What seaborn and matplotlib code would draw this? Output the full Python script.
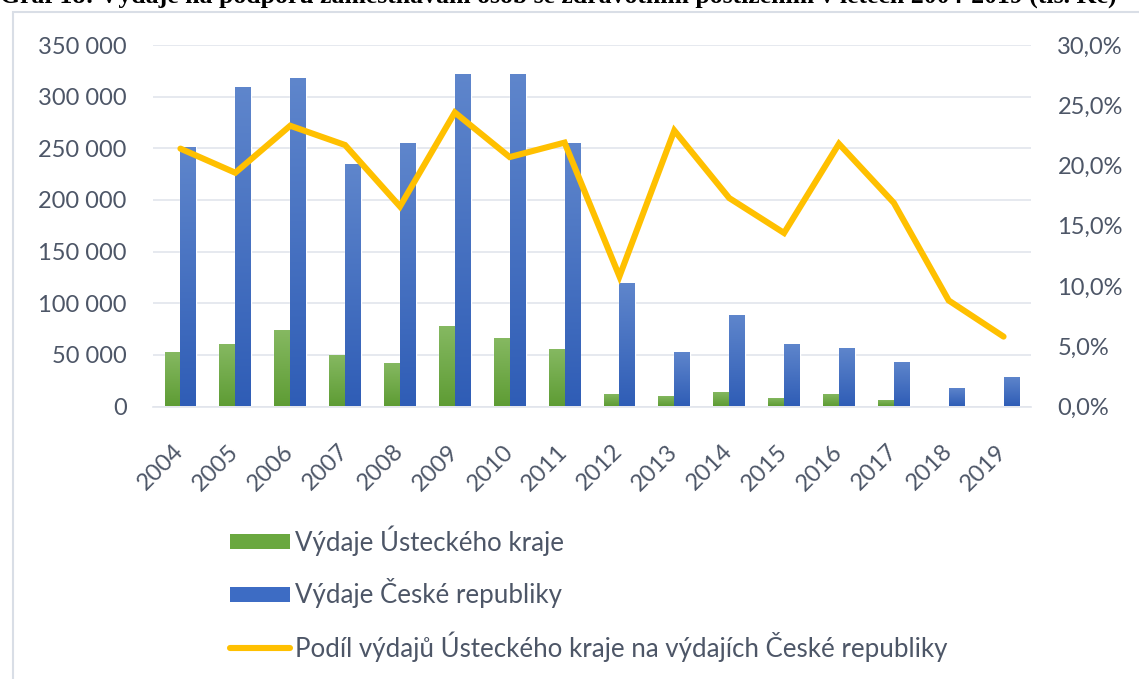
import numpy as np
import pandas as pd
import matplotlib
matplotlib.use("Agg")
import matplotlib.pyplot as plt
import seaborn as sns
from matplotlib.ticker import FuncFormatter
from matplotlib.patches import Rectangle, Patch
from matplotlib.lines import Line2D
from matplotlib.colors import LinearSegmentedColormap, to_hex

# data (tis. Kč)
years = [str(y) for y in range(2004, 2020)]
vydaje_kraj = [52500, 60200, 73700, 49500, 42400, 77900, 66000, 55600,
               12100, 10500, 13700, 7900, 12100, 6300, 0, 0]
vydaje_cr = [250800, 308900, 317600, 234400, 255000, 322400, 322400, 255000,
             119200, 52500, 88300, 60200, 56900, 43400, 18200, 28500]
podil = [21.4, 19.4, 23.3, 21.7, 16.6, 24.4, 20.7, 21.9,
         10.8, 22.9, 17.3, 14.4, 21.8, 16.9, 8.8, 5.8]

lbl_kraj = "Výdaje Ústeckého kraje"
lbl_cr = "Výdaje České republiky"
lbl_podil = "Podíl výdajů Ústeckého kraje na výdajích České republiky"

GREEN = "#6AA83F"
BLUE = "#3D6CC4"
YELLOW = "#FFC000"
TEXT = "#4D5667"
GRID = "#E2E5EC"
# gradient ends (bottom -> top), like the Excel fill
GRAD = {to_hex(GREEN): ["#5E9C34", "#86B962"],
        to_hex(BLUE): ["#2F5DB6", "#5F86CC"]}

sns.set_theme(style="white")
plt.rcParams['font.family'] = ['Lato', 'DejaVu Sans']

df = pd.DataFrame({
    'rok': years * 2,
    'vydaje': vydaje_kraj + vydaje_cr,
    'serie': [lbl_kraj] * len(years) + [lbl_cr] * len(years),
})

fig = plt.figure(figsize=(11.39, 6.79), dpi=100)
ax = fig.add_axes([153 / 1139, 1 - 406.5 / 679, (1031 - 153) / 1139, (406.5 - 45) / 679])

sns.barplot(data=df, x='rok', y='vydaje', hue='serie', palette=[GREEN, BLUE],
            width=0.58, gap=0, ax=ax, legend=False, saturation=1)

ax2 = ax.twinx()
sns.lineplot(x=np.arange(len(years)), y=np.array(podil) / 100, color=YELLOW,
             linewidth=4.4, ax=ax2, legend=False)
ax2.lines[0].set_solid_joinstyle('miter')
ax2.lines[0].set_solid_capstyle('round')

ax.set_xlim(-0.5, len(years) - 0.5)
ax.set_ylim(0, 350000)

# vertical gradient inside every bar
grad = np.linspace(0, 1, 256).reshape(-1, 1)
for bar in list(ax.patches):
    h = bar.get_height()
    if h <= 0:
        continue
    key = to_hex(bar.get_facecolor())
    if key not in GRAD:
        continue
    cmap = LinearSegmentedColormap.from_list('g', GRAD[key])
    x0 = bar.get_x()
    im = ax.imshow(grad, cmap=cmap, origin='lower', aspect='auto',
                   extent=[x0, x0 + bar.get_width(), 0, h], zorder=bar.get_zorder())
    im.set_clip_path(bar)
    bar.set_facecolor('none')
ax.set_xlim(-0.5, len(years) - 0.5)
ax.set_ylim(0, 350000)

ax.set_yticks(np.arange(0, 350001, 50000))
ax.yaxis.set_major_formatter(FuncFormatter(lambda v, p: f"{int(v):,}".replace(",", " ")))
ax2.set_ylim(0, 0.30)
ax2.set_yticks(np.arange(0, 0.301, 0.05))
ax2.yaxis.set_major_formatter(FuncFormatter(lambda v, p: f"{v * 100:.1f}%".replace(".", ",")))

ax.grid(axis='y', color=GRID, linewidth=1.2)
ax.set_axisbelow(True)
for a in (ax, ax2):
    for s in a.spines.values():
        s.set_visible(False)
    a.set_xlabel('')
    a.set_ylabel('')
ax.spines['bottom'].set_visible(True)
ax.spines['bottom'].set_color(GRID)
ax.spines['bottom'].set_linewidth(1.2)

ax.tick_params(axis='y', length=0, pad=19, labelsize=17, labelcolor=TEXT)
ax2.tick_params(axis='y', length=0, pad=19, labelsize=17, labelcolor=TEXT)
ax.tick_params(axis='x', length=0, pad=30, labelsize=17, labelcolor=TEXT)
for t in ax.get_xticklabels():
    t.set_rotation(45)
    t.set_ha('right')
    t.set_va('center')
    t.set_rotation_mode('anchor')

# legend below the chart
handles = [Patch(facecolor=GREEN, edgecolor='none'),
           Patch(facecolor=BLUE, edgecolor='none'),
           Line2D([0], [0], color=YELLOW, linewidth=4.4, solid_capstyle='round')]
leg = fig.legend(handles, [lbl_kraj, lbl_cr, lbl_podil], loc='upper left',
                 bbox_to_anchor=(207 / 1139, 1 - 502 / 679), frameon=False,
                 fontsize=18.6, labelcolor=TEXT, handlelength=2.3, handleheight=0.55,
                 handletextpad=0.2, labelspacing=0.88)

# chart frame and the cut-off caption above it
fig.patches.append(Rectangle((13 / 1139, -0.05), 1.2, 1 - 12 / 679 + 0.05,
                             transform=fig.transFigure, fill=False,
                             edgecolor='#D9DEE6', linewidth=1.5))
fig.text(0.0, 1 - 3 / 679, "Graf 18: Výdaje na podporu zaměstnávání osob se zdravotním "
         "postižením v letech 2004-2019 (tis. Kč)", fontsize=18.5, fontweight='bold',
         family=['Liberation Serif', 'DejaVu Serif'], va='baseline', ha='left', color='black')

fig.savefig("out.png", dpi=100, facecolor='white')
